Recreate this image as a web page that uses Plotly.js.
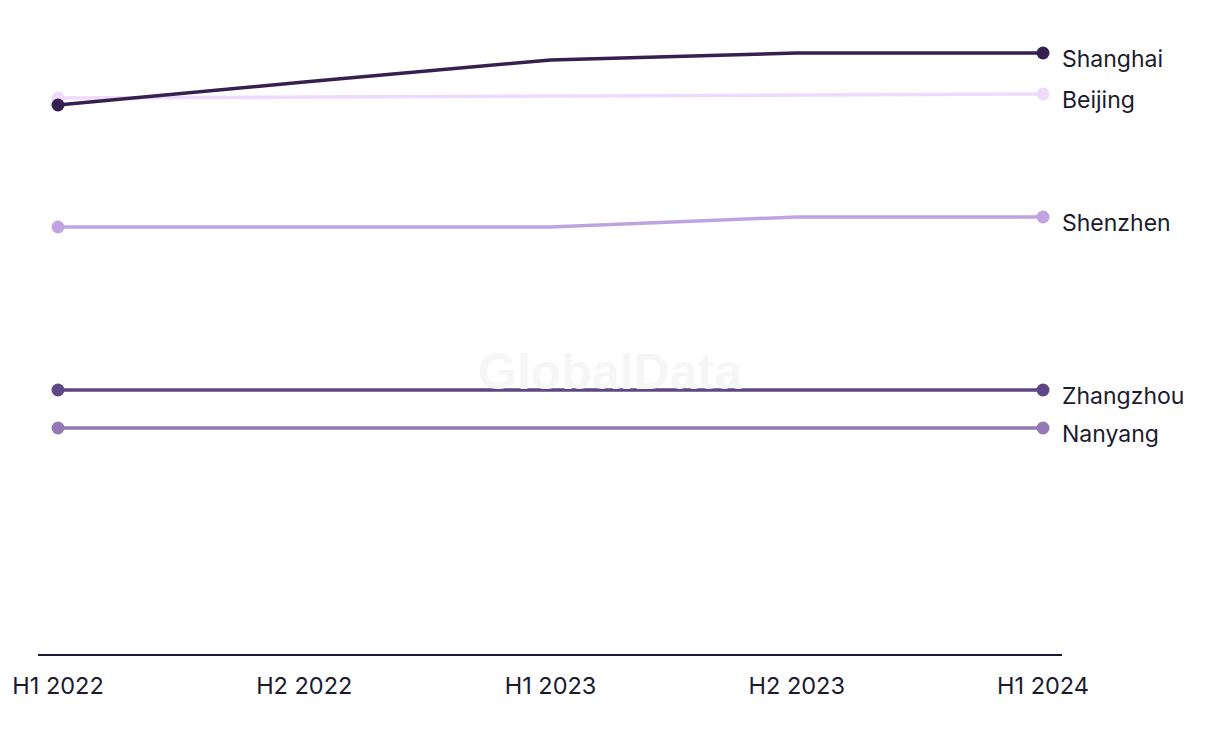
<!DOCTYPE html>
<html>
<head>
<meta charset="utf-8">
<script src="https://cdn.plot.ly/plotly-3.0.1.min.js"></script>
<style>html,body{margin:0;padding:0;background:#fff}#chart{width:1220px;height:744px}</style>
</head>
<body>
<div id="chart"></div>
<script>
const periods = ["H1 2022", "H2 2022", "H1 2023", "H2 2023", "H1 2024"];
const cities = ["Nanyang", "Zhangzhou", "Shenzhen", "Beijing", "Shanghai"];
const nanyang = [22.6, 22.6, 22.6, 22.6, 22.6];
const zhangzhou = [26.4, 26.4, 26.4, 26.4, 26.4];
const shenzhen = [42.7, 42.7, 42.7, 43.7, 43.7];
const beijing = [55.6, 55.7, 55.8, 55.9, 56.0];
const shanghai = [54.9, 57.2, 59.4, 60.1, 60.1];
const colors = {Nanyang:"#9479b5", Zhangzhou:"#5e4785", Shenzhen:"#c0a3e3", Beijing:"#f0dafb", Shanghai:"#35204f"};
const series = {Nanyang:nanyang, Zhangzhou:zhangzhou, Shenzhen:shenzhen, Beijing:beijing, Shanghai:shanghai};

const font = "Inter, 'Noto Sans', sans-serif";
const n = periods.length;
const sizes = periods.map((p,i)=> (i===0||i===n-1) ? 13 : 0);

const traces = cities.map(c => ({
  type:"scatter", mode:"lines+markers", x:periods, y:series[c], name:c,
  line:{color:colors[c], width:3.5},
  marker:{color:colors[c], size:sizes, opacity:1, line:{width:0}},
  cliponaxis:false, hoverinfo:"x+y+name"
}));

const annotations = cities.map(c => ({
  x:periods[n-1], y:series[c][n-1], xref:"x", yref:"y",
  text:c, showarrow:false, xanchor:"left", yanchor:"middle",
  xshift:17, yshift:-6, font:{family:font, size:23, color:"#1c1b2e"}
}));
annotations.push({
  x:0.5586, y:0.445, xref:"paper", yref:"paper", text:"<b>GlobalData</b>", showarrow:false,
  xanchor:"center", yanchor:"middle",
  font:{family:"'Liberation Sans', Arial, sans-serif", size:50, color:"#f6f6f6"}
});

const layout = {
  width:1220, height:744,
  margin:{l:38, r:158, t:20, b:90},
  paper_bgcolor:"#fff", plot_bgcolor:"#fff",
  showlegend:false,
  xaxis:{type:"category", range:[-0.0812, 4.0772], showgrid:false, zeroline:false,
    showline:true, linecolor:"#1c1b2e", linewidth:2, ticks:"", ticklabelstandoff:10,
    tickfont:{family:font, size:23.5, color:"#1c1b2e"}, fixedrange:true},
  yaxis:{range:[0, 63.4], showgrid:false, zeroline:false, showline:false, showticklabels:false, fixedrange:true},
  annotations:annotations
};
Plotly.newPlot("chart", traces, layout, {displayModeBar:false, staticPlot:true});
</script>
</body>
</html>
